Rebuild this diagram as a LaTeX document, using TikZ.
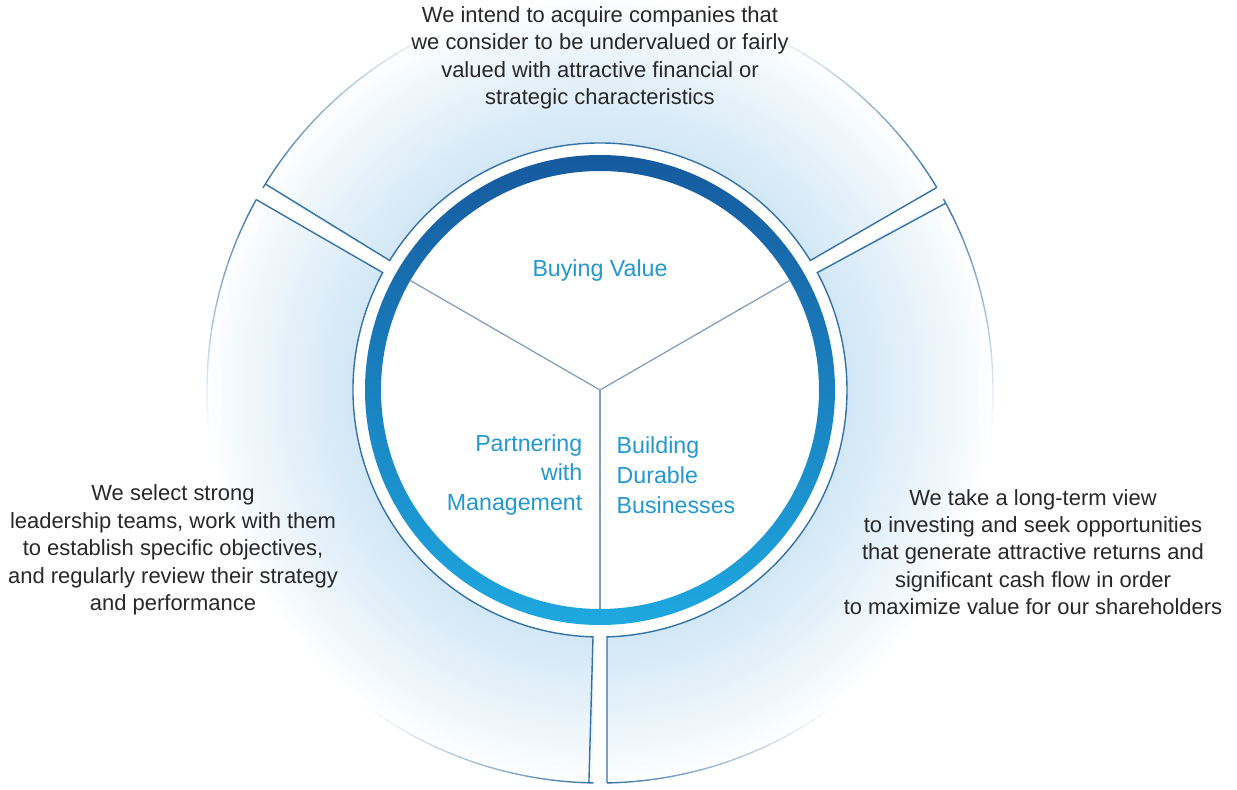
\documentclass[tikz,border=0pt]{standalone}
\usepackage{fontspec}
\setmainfont{Liberation Sans}
\usepackage{tikz}

\definecolor{ringdark}{RGB}{22,90,158}
\definecolor{ringlight}{RGB}{30,168,224}
\definecolor{segline}{RGB}{52,114,166}
\definecolor{spoke}{RGB}{130,158,186}
\definecolor{haloblue}{RGB}{210,231,246}
\definecolor{labelblue}{RGB}{34,152,206}
\definecolor{bodytext}{RGB}{40,40,40}

\begin{document}
\begin{tikzpicture}[x=.2mm,y=.2mm,line width=.28mm,
  note/.style={text=bodytext,align=center,inner sep=1.5mm,font=\fontsize{12.5}{15.6}\selectfont},
  title/.style={text=labelblue,inner sep=0pt,font=\fontsize{13.2}{17}\selectfont}]
\useasboundingbox (-600,-399) rectangle (637,390);
\coordinate (hub) at (0,0);

% glow round the hub, fading out towards the rim
\foreach \k in {0,...,48}{
  \pgfmathsetmacro\r{393-3*\k}
  \pgfmathsetmacro\p{100*(1-(\r-247)/146)^0.85}
  \fill[haloblue!\p!white] (hub) circle (\r);
}
\fill[white] (hub) circle (247);
\foreach \a in {30,150,270}
  \draw[white,line width=2.8mm] (hub) -- (\a:420);

% three outer segments; the rim fades out away from the gaps
\foreach \a in {30,150,270}{
  \pgfmathsetmacro\ia{\a+1.62}
  \pgfmathsetmacro\oa{\a+1.02}
  \pgfmathsetmacro\ob{\a+118.98}
  \pgfmathsetmacro\ib{\a+118.38}
  \draw[segline] (\oa:393) -- (\ia:247) arc[start angle=\ia,end angle=\ib,radius=247] -- (\ib:393);
  \foreach \t in {0,...,58}{
    \pgfmathsetmacro\s{\oa+2*\t}
    \pgfmathsetmacro\d{min(2*\t+1,117-2*\t)}
    \pgfmathsetmacro\q{100*max(0,1-\d/36)^1.2}
    \draw[segline!\q!white] (\s:393) arc[start angle=\s,delta angle=2.03,radius=393];
  }
}

% the ring and its spokes
\shade[top color=ringdark,bottom color=ringlight,even odd rule] (hub) circle (235) (hub) circle (219);
\foreach \a in {30,150,270}
  \draw[spoke,line width=.25mm] (hub) -- (\a:219);

\node[title] (buy) at (0,119) {Buying Value};
\node[title,anchor=east,align=right] (partner) at (-17,-85) {Partnering\\with\\Management};
\node[title,anchor=west,align=left] (build) at (16,-85) {Building\\Durable\\Businesses};

\node[note] (buynote) at (0,332) {We intend to acquire companies that\\we consider to be undervalued or fairly\\valued with attractive financial or\\strategic characteristics};
\node[note] (partnernote) at (-427,-160) {We select strong\\leadership teams, work with them\\to establish specific objectives,\\and regularly review their strategy\\and performance};
\node[note] (buildnote) at (433,-162) {We take a long-term view\\to investing and seek opportunities\\that generate attractive returns and\\significant cash flow in order\\to maximize value for our shareholders};
\end{tikzpicture}
\end{document}
